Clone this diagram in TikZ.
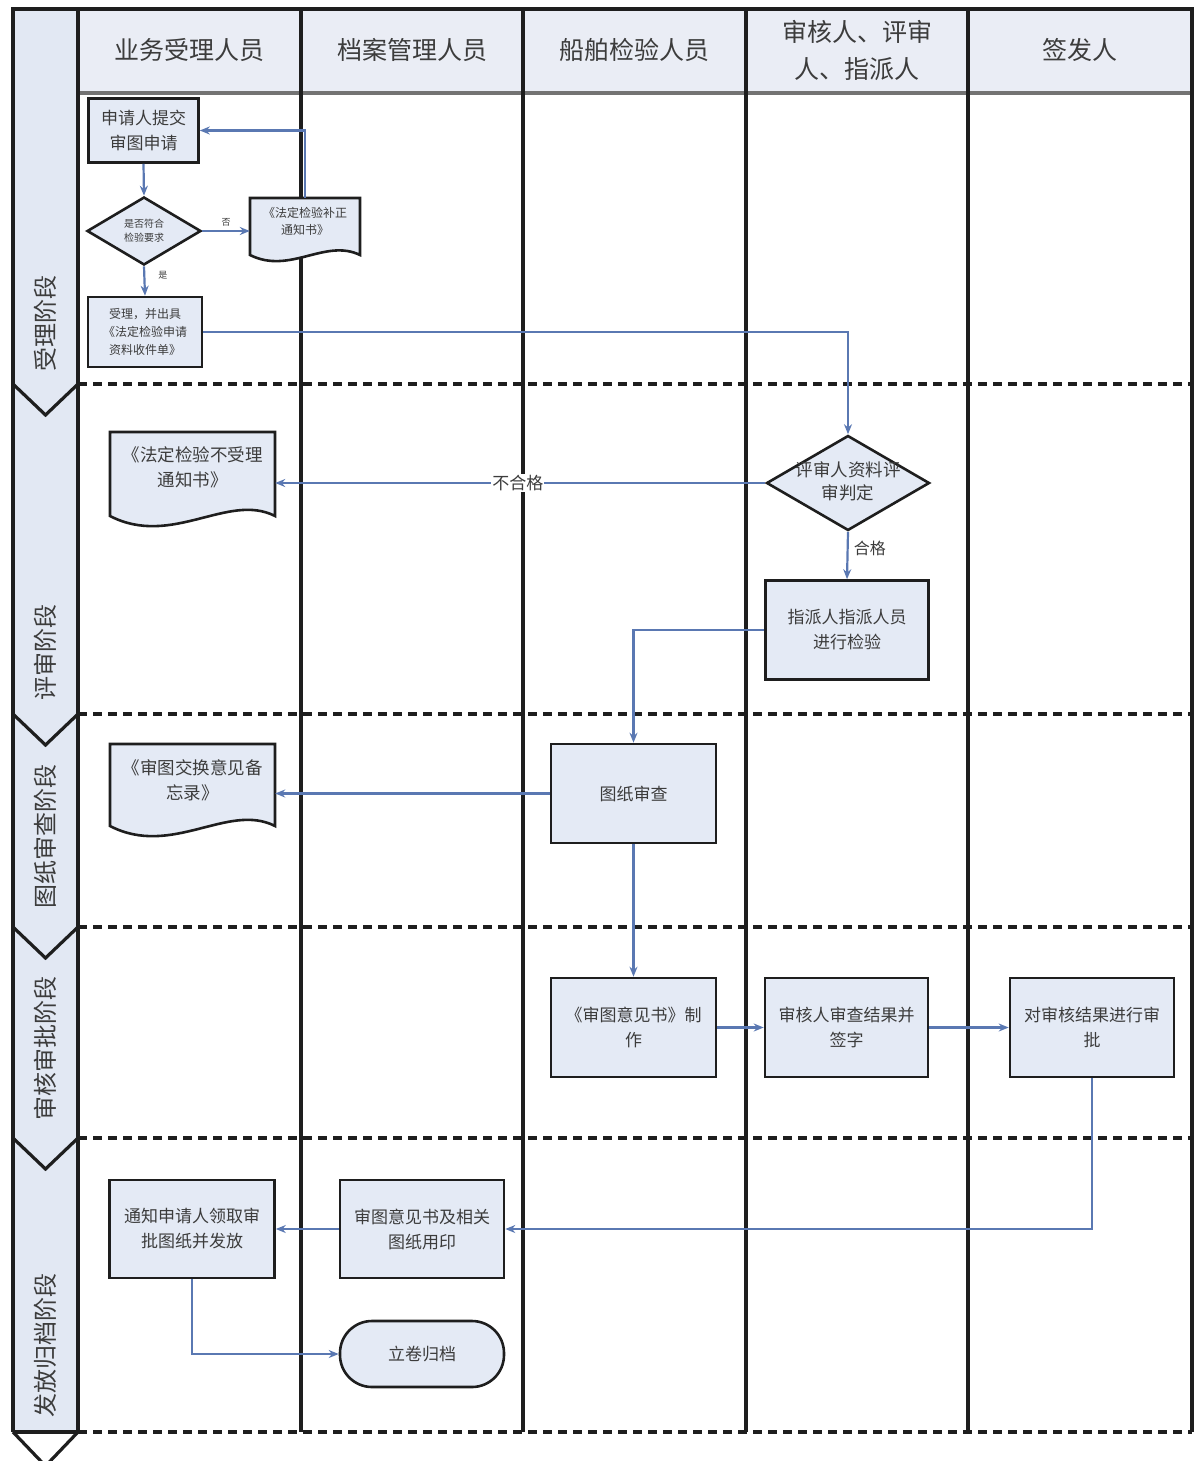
\documentclass[tikz,border=0pt]{standalone}
\usepackage{fontspec}
\setmainfont{Noto Sans CJK SC}
\usetikzlibrary{arrows.meta,shapes.geometric}
\definecolor{boxfill}{HTML}{E4EAF5}
\definecolor{hdrfill}{HTML}{EAEDF5}
\definecolor{phfill}{HTML}{E2E8F3}
\definecolor{arrowc}{HTML}{5A78B2}
\definecolor{txtc}{HTML}{3C3C3C}
\definecolor{framec}{HTML}{1E1E1E}
\newcommand\fsz[2]{\fontsize{#1}{#2}\selectfont}
\begin{document}
\begin{tikzpicture}[x=1pt,y=-1pt,
  proc/.style={draw=framec,line width=2.6pt,fill=boxfill,text=txtc,align=center,inner sep=2pt,font=\fsz{17}{25}},
  docshape/.style={draw=framec,line width=2.6pt,fill=boxfill},
  doctext/.style={text=txtc,align=center,inner sep=0pt},
  dia/.style={diamond,draw=framec,line width=2.6pt,fill=boxfill,inner sep=0pt},
  term/.style={draw=framec,line width=2.6pt,fill=boxfill,rounded corners=32pt,text=txtc,align=center,font=\fsz{17}{25}},
  arr/.style={draw=arrowc,line width=2.2pt,-{Stealth[length=10pt,width=8pt]}},
  lane/.style={draw=framec,line width=3.2pt},
  sepline/.style={draw=framec,line width=3.6pt,dash pattern=on 9pt off 6pt},
  chev/.style={draw=framec,line width=3.2pt,line join=miter},
  hdr/.style={text=txtc,align=center,font=\fsz{25}{37}},
  phase/.style={text=txtc,rotate=90,font=\fsz{24}{28}},
  lbl/.style={text=txtc,inner sep=1pt}
]
\useasboundingbox (0,0) rectangle (1196,1461);

% backgrounds
\fill[phfill] (13,9) rectangle (78,1432);
\fill[hdrfill] (78,9) rectangle (1192,93);

% separators
\foreach \yy in {384,714,927,1138,1432}{
  \draw[sepline] (78,\yy) -- (1192,\yy);
}
% chevrons
\foreach \yy in {384,714,927,1138}{
  \draw[chev] (13,\yy) -- (45.5,\yy+31) -- (78,\yy);
}
\draw[chev] (13,1432) -- (78,1432);
\draw[chev] (13,1432) -- (45.5,1466) -- (78,1432);

% header bottom line
\draw[draw=black!55,line width=3.5pt] (78,93) -- (1192,93);
% lanes
\foreach \xx in {13,78,301,523,746,968,1192}{
  \draw[lane] (\xx,9) -- (\xx,1432);
}
\draw[draw=framec,line width=3.6pt] (11.4,9) -- (1193.6,9);

% headers
\node[hdr] (h1) at (189.5,50) {业务受理人员};
\node[hdr] (h2) at (412,50) {档案管理人员};
\node[hdr] (h3) at (634.5,50) {船舶检验人员};
\node[hdr] (h4) at (857,50) {审核人、评审\\人、指派人};
\node[hdr] (h5) at (1080,50) {签发人};

% phases
\node[phase] (p1) at (45.5,323) {受理阶段};
\node[phase] (p2) at (45.5,652) {评审阶段};
\node[phase] (p3) at (45.5,836) {图纸审查阶段};
\node[phase] (p4) at (45.5,1048) {审核审批阶段};
\node[phase] (p5) at (45.5,1345) {发放归档阶段};

% stage 1
\node[proc,minimum width=110pt,minimum height=64pt] (A) at (143.5,130.5) {申请人提交\\审图申请};
\node[dia,minimum width=114pt,minimum height=68pt] (d1) at (144,231) {};
\node[doctext,font=\fsz{10}{14}] (d1t) at (d1) {是否符合\\检验要求};
\path[docshape] (250,198) -- (360,198) -- (360,255) .. controls (325,238) and (290,275) .. (250,255) -- cycle;
\node[doctext,font=\fsz{12}{17},minimum width=110pt,minimum height=46pt] (doc1) at (305,221) {《法定检验补正\\通知书》};
\node[proc,minimum width=114pt,minimum height=70pt,font=\fsz{12}{18}] (C) at (145,332) {受理，并出具\\《法定检验申请\\资料收件单》};

% stage 2
\node[dia,minimum width=163pt,minimum height=95pt] (d2) at (848,483) {};
\node[doctext,font=\fsz{17.5}{23}] (d2t) at (848,481) {评审人资料评\\审判定};
\path[docshape] (110,432) -- (275,432) -- (275,516) .. controls (228,492) and (172,548) .. (110,516) -- cycle;
\node[doctext,font=\fsz{17.5}{25},minimum width=165pt,minimum height=70pt] (doc2) at (192.5,467) {《法定检验不受理\\通知书》};
\node[proc,minimum width=163pt,minimum height=99pt] (D) at (847,630) {指派人指派人员\\进行检验};

% stage 3
\node[proc,minimum width=165pt,minimum height=99pt] (E) at (633.5,793.5) {图纸审查};
\path[docshape] (110,744) -- (275,744) -- (275,826) .. controls (228,802) and (172,858) .. (110,826) -- cycle;
\node[doctext,font=\fsz{17.5}{25},minimum width=165pt,minimum height=72pt] (doc3) at (192.5,780) {《审图交换意见备\\忘录》};

% stage 4
\node[proc,minimum width=165pt,minimum height=99pt] (F) at (633.5,1027.5) {《审图意见书》制\\作};
\node[proc,minimum width=163pt,minimum height=99pt] (G) at (846.5,1027.5) {审核人审查结果并\\签字};
\node[proc,minimum width=164pt,minimum height=99pt] (H) at (1092,1027.5) {对审核结果进行审\\批};

% stage 5
\node[proc,minimum width=164pt,minimum height=98pt] (I) at (422,1229) {审图意见书及相关\\图纸用印};
\node[proc,minimum width=165pt,minimum height=98pt] (J) at (192,1229) {通知申请人领取审\\批图纸并发放};
\node[term,minimum width=164pt,minimum height=66pt] (K) at (422,1354) {立卷归档};

% connectors
\draw[arr] (A.south) -- (d1.north);
\draw[arr] (d1.east) -- (d1.east -| doc1.west) node[lbl,midway,above=3pt,font=\fsz{9}{10}] (lno) {否};
\draw[arr] (d1.south) -- (C.north) node[lbl,pos=0.3,right=12pt,font=\fsz{9}{10}] (lyes) {是};
\draw[arr] (doc1.north) |- (A.east);
\draw[arr] (C.east) -| (d2.north);
\draw[arr] (d2.west) -- (d2.west -| doc2.east) node[lbl,pos=0.505,fill=white,font=\fsz{17}{20}] (lfail) {不合格};
\draw[arr] (d2.south) -- (D.north) node[lbl,pos=0.35,right=4pt,font=\fsz{16}{20}] (lpass) {合格};
\draw[arr] (D.west) -| (E.north);
\draw[arr] (E.west) -- (E.west -| doc3.east);
\draw[arr] (E.south) -- (F.north);
\draw[arr] (F.east) -- (G.west);
\draw[arr] (G.east) -- (H.west);
\draw[arr] (H.south) |- (I.east);
\draw[arr] (I.west) -- (J.east);
\draw[arr] (J.south) |- (K.west);
\end{tikzpicture}
\end{document}
